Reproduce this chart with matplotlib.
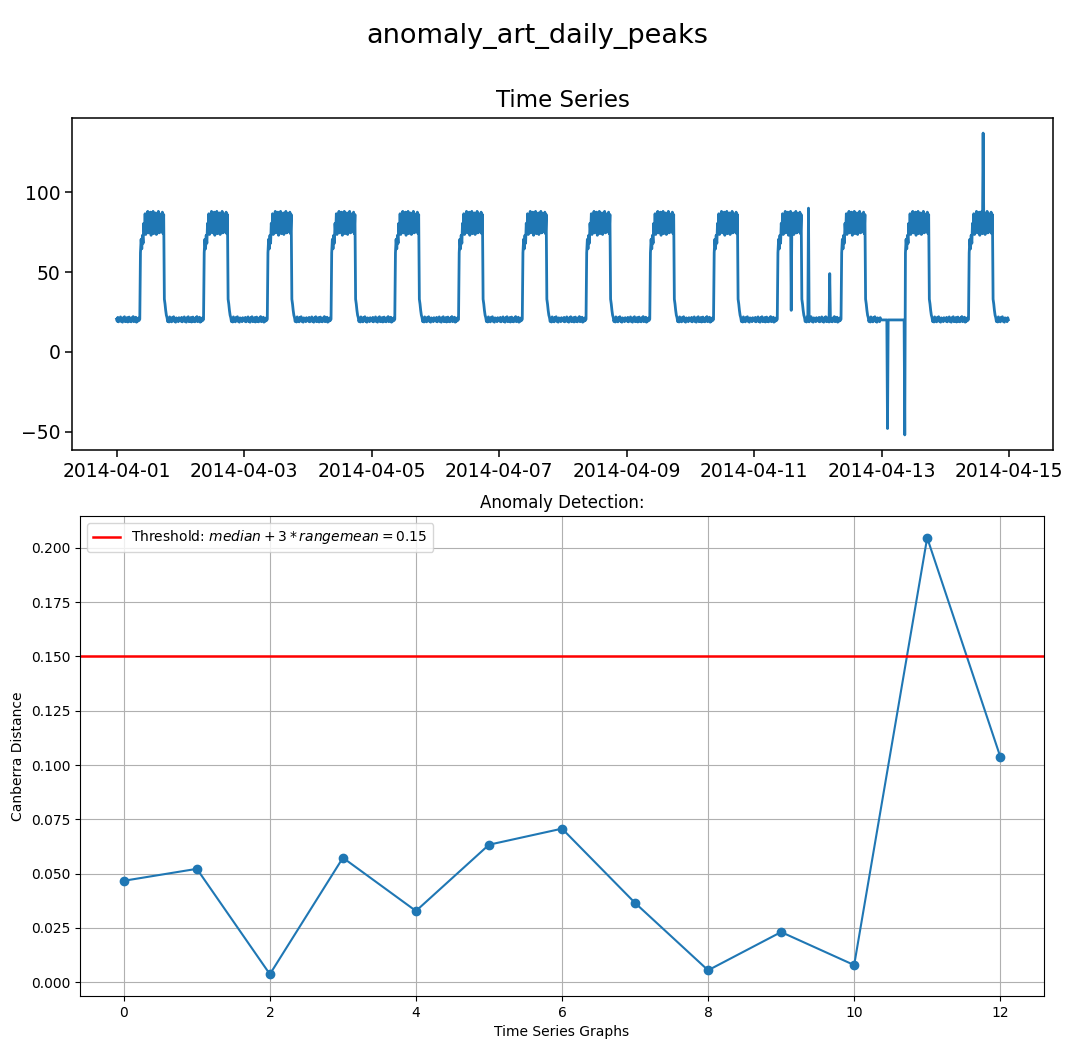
import numpy as np
import pandas as pd
import matplotlib
matplotlib.use("Agg")
import matplotlib.pyplot as plt
import matplotlib.dates as mdates

# ---------------- data ----------------
START = "2014-04-01 00:00"
N_DAYS = 14
FREQ = "15min"

# typical day profile (15-minute samples, 96 values)
DAY_PROFILE = [
    # 00:00 - 08:45 low level
    20.5, 19.2, 21.6, 18.8, 20.9, 19.5, 21.9, 19.0, 20.3, 18.6, 21.4, 19.8,
    22.0, 18.9, 20.7, 19.3, 21.5, 18.7, 20.1, 21.8, 19.1, 20.6, 18.8, 21.3,
    19.6, 22.1, 18.9, 20.4, 19.4, 21.7, 18.6, 20.8, 19.2, 21.2, 19.7, 20.5,
    # 09:00 - 17:45 high plateau
    62.0, 70.5, 64.5, 73.0, 68.0, 80.5, 74.0, 86.5, 73.5, 85.0, 76.0, 88.0,
    74.5, 84.5, 77.0, 87.5, 73.0, 86.0, 75.5, 88.0, 74.0, 83.5, 78.0, 87.0,
    73.5, 85.5, 76.5, 88.0, 74.5, 86.5, 75.0, 84.0, 77.5, 87.5, 74.0, 86.0,
    # 18:00 - 18:45 drop
    33.0, 30.0, 26.0, 23.0,
    # 19:00 - 23:45 low level
    21.5, 19.0, 20.8, 18.7, 21.9, 19.4, 20.2, 18.8, 21.6, 19.9,
    22.0, 19.1, 20.5, 18.6, 21.3, 19.7, 20.9, 18.9, 21.4, 20.1,
]

FLAT_SPANS = [("2014-04-13 00:00", "2014-04-13 08:30", 20.0)]

ANOMALY_TIMES = ["2014-04-11 14:00", "2014-04-11 20:30", "2014-04-12 04:30",
                 "2014-04-13 02:15", "2014-04-13 08:45", "2014-04-14 14:15"]
ANOMALY_VALUES = [26.0, 90.0, 49.0, -48.0, -52.0, 137.0]

GRAPH_IDS = list(range(13))
CANBERRA = [0.0467, 0.0522, 0.0037, 0.0573, 0.0328, 0.0633, 0.0707,
            0.0365, 0.0055, 0.0231, 0.0079, 0.2046, 0.1039]
THRESHOLD = 0.15

# ---------------- build series ----------------
idx = pd.date_range(START, periods=N_DAYS * len(DAY_PROFILE), freq=FREQ)
series = pd.Series(np.tile(DAY_PROFILE, N_DAYS), index=idx)
for s, e, v in FLAT_SPANS:
    series.loc[s:e] = v
for t, v in zip(ANOMALY_TIMES, ANOMALY_VALUES):
    series.loc[pd.Timestamp(t)] = v

# ---------------- figure ----------------
fig = plt.figure(figsize=(10.74, 10.47), dpi=100)
fig.suptitle("anomaly_art_daily_peaks", fontsize=19.5, y=0.978)

ax1 = fig.add_axes([0.0670, 0.5702, 0.9134, 0.3171])
ax1.plot(series.index, series.values, color="#1f77b4", lw=2.0)
ax1.set_title("Time Series", fontsize=16.5, pad=8)
ax1.xaxis.set_major_locator(mdates.DayLocator(bymonthday=range(1, 32, 2)))
ax1.xaxis.set_major_formatter(mdates.DateFormatter("%Y-%m-%d"))
ax1.set_yticks([-50, 0, 50, 100])
ax1.tick_params(labelsize=13.5, length=4.8, width=1.1)
for sp in ax1.spines.values():
    sp.set_linewidth(1.1)

ax2 = fig.add_axes([0.0745, 0.0487, 0.8976, 0.4585])
ax2.plot(GRAPH_IDS, CANBERRA, marker="o", color="#1f77b4")
ax2.axhline(THRESHOLD, color="red", lw=1.8,
            label=r"Threshold: $median + 3 * range mean = 0.15$")
ax2.set_title("Anomaly Detection:", fontsize=12)
ax2.set_xlabel("Time Series Graphs")
ax2.set_ylabel("Canberra Distance")
ax2.grid(True)
ax2.legend(loc="upper left")

fig.savefig("out.png", dpi=100)
